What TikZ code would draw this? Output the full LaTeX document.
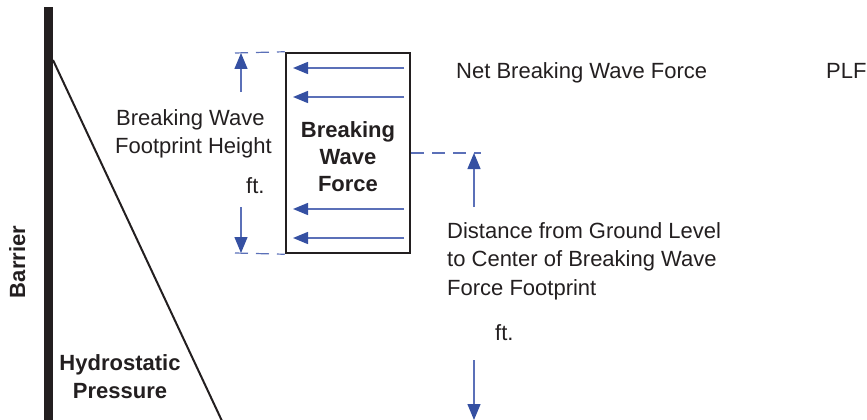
\documentclass[tikz,border=0pt]{standalone}
\usepackage{fontspec}
\setmainfont{Liberation Sans}
\usetikzlibrary{arrows.meta}
\definecolor{wblue}{HTML}{3550A2}
\definecolor{wshaft}{HTML}{5B70B8}
\definecolor{ink}{HTML}{231F20}
\tikzset{
  lbl/.style={font=\fontsize{22}{28}\selectfont, inner sep=0pt, text=ink},
  blbl/.style={font=\fontsize{22}{28}\selectfont\bfseries, inner sep=0pt, text=ink},
  farrow/.style={wshaft, line width=1.5pt, -{Triangle[length=15pt,width=12pt,color=wblue]}},
  dimarrow/.style={wshaft, line width=1.3pt, -{Triangle[length=16pt,width=13pt,color=wblue]}},
  dimdash/.style={wshaft, line width=1.2pt, dash pattern=on 13pt off 8pt},
}
\begin{document}
\begin{tikzpicture}[x=1pt,y=-1pt]
\useasboundingbox (0,0) rectangle (867,420);

% barrier and hydrostatic line
\node[fill=ink, minimum width=9pt, minimum height=413pt, inner sep=0pt, anchor=north west] (barrier) at (44,7) {};
\coordinate (htop) at (53,60);
\coordinate (hbot) at (222,421);
\draw[ink, line width=2pt] (htop) -- (hbot);
\node[blbl, rotate=90, anchor=base] (barrierlbl) at (25,262) {Barrier};
\node[blbl, anchor=base] (hyd1) at (120,370) {Hydrostatic};
\node[blbl, anchor=base] (hyd2) at (120,398) {Pressure};

% breaking wave force box
\node[draw=ink, line width=2.5pt, minimum width=124pt, minimum height=200pt, inner sep=0pt] (box) at (348,153) {};
\node[blbl, anchor=base] (bwf1) at (348,137) {Breaking};
\node[blbl, anchor=base] (bwf2) at (348,164) {Wave};
\node[blbl, anchor=base] (bwf3) at (348,191) {Force};

% force arrows inside
\foreach \y [count=\i] in {68,97,209,238} {
  \coordinate (fs\i) at (404,\y);
  \coordinate (fe\i) at (293,\y);
  \draw[farrow] (fs\i) -- (fe\i);
}

% footprint height dimension
\coordinate (dt) at (235,53);
\coordinate (db) at (235,253);
\draw[dimdash] (dt) -- (box.north west);
\draw[dimdash] (db) -- (box.south west);
\coordinate (ht) at (241,53);
\coordinate (htail) at (241,92);
\coordinate (hb) at (241,253);
\coordinate (hbtail) at (241,207);
\draw[dimarrow] (htail) -- (ht);
\draw[dimarrow] (hbtail) -- (hb);
\node[lbl, anchor=base west] (fh1) at (116,125) {Breaking Wave};
\node[lbl, anchor=base west] (fh2) at (115,153) {Footprint Height};
\node[lbl, anchor=base west] (ft1) at (246,193) {ft.};

% distance to centre dimension
\coordinate (rd) at (481,153);
\draw[dimdash] (box.east) -- (rd);
\coordinate (ct) at (474,153);
\coordinate (ctail) at (474,207);
\coordinate (gtail) at (474,360);
\coordinate (gb) at (474,420);
\draw[dimarrow] (ctail) -- (ct);
\draw[dimarrow] (gtail) -- (gb);
\node[lbl, anchor=base west] (d1) at (447,238) {Distance from Ground Level};
\node[lbl, anchor=base west] (d2) at (447,266.5) {to Center of Breaking Wave};
\node[lbl, anchor=base west] (d3) at (447,295) {Force Footprint};
\node[lbl, anchor=base west] (ft2) at (495,340) {ft.};

% net force
\node[lbl, anchor=base west] (net) at (456,78) {Net Breaking Wave Force};
\node[lbl, anchor=base west] (plf) at (826,78) {PLF};
\end{tikzpicture}
\end{document}
